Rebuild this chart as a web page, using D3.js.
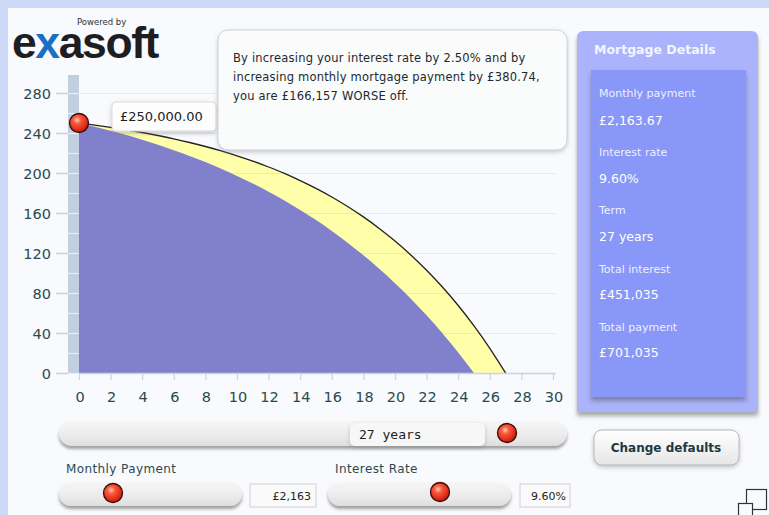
<!DOCTYPE html>
<html><head><meta charset="utf-8">
<script src="https://cdn.jsdelivr.net/npm/d3@7"></script>
<style>
html,body{margin:0;padding:0;background:#cdd9f7;}
svg{display:block;}
</style></head>
<body>
<svg id="c" width="769" height="515"></svg>
<script>
// ---- data (balance in £000 by year) ----
const yearsNew = [0,1,2,3,4,5,6,7,8,9,10,11,12,13,14,15,16,17,18,19,20,21,22,23,24,25,26,27];
const balanceNew = [250,247.9,245.7,243.2,240.5,237.5,234.2,230.5,226.5,222.1,217.2,211.9,206.0,199.6,192.4,184.6,176.0,166.5,156.1,144.6,132.0,118.1,102.8,86.0,67.5,47.1,24.7,0];
const yearsOld = [0,1,2,3,4,5,6,7,8,9,10,11,12,13,14,15,16,17,18,19,20,21,22,23,24,25];
const balanceOld = [250,246.2,242.2,237.9,233.2,228.2,222.8,217.1,210.9,204.3,197.1,189.5,181.3,172.5,163.0,152.9,142.0,130.3,117.8,104.3,89.8,74.3,57.7,39.8,20.6,0];
const xTicks = [0,2,4,6,8,10,12,14,16,18,20,22,24,26,28,30];
const yTicks = [0,40,80,120,160,200,240,280];
const tooltipText = "£250,000.00";
const calloutLines = ["By increasing your interest rate by 2.50% and by","increasing monthly mortgage payment by £380.74,","you are £166,157 WORSE off."];
const detailLabels = ["Monthly payment","Interest rate","Term","Total interest","Total payment"];
const detailValues = ["£2,163.67","9.60%","27 years","£451,035","£701,035"];
const termLabel = "27 years";
const paymentLabel = "Monthly Payment", paymentValue = "£2,163";
const rateLabel = "Interest Rate", rateValue = "9.60%";

const svg = d3.select("#c");
const defs = svg.append("defs");
// gradients & filters
const kg = defs.append("radialGradient").attr("id","knob").attr("cx","40%").attr("cy","35%").attr("r","65%");
kg.append("stop").attr("offset","0%").attr("stop-color","#ffd0c0");
kg.append("stop").attr("offset","30%").attr("stop-color","#ff5a3c");
kg.append("stop").attr("offset","100%").attr("stop-color","#c81a0a");
const pg = defs.append("linearGradient").attr("id","pill").attr("x1",0).attr("y1",0).attr("x2",0).attr("y2",1);
pg.append("stop").attr("offset","0%").attr("stop-color","#f6f6f6");
pg.append("stop").attr("offset","60%").attr("stop-color","#ebebeb");
pg.append("stop").attr("offset","100%").attr("stop-color","#dedede");
const bg = defs.append("linearGradient").attr("id","btn").attr("x1",0).attr("y1",0).attr("x2",0).attr("y2",1);
bg.append("stop").attr("offset","0%").attr("stop-color","#ffffff");
bg.append("stop").attr("offset","100%").attr("stop-color","#e6e6e6");
const sh = defs.append("filter").attr("id","sh").attr("x","-10%").attr("y","-20%").attr("width","120%").attr("height","160%");
sh.append("feDropShadow").attr("dx",0).attr("dy",3).attr("stdDeviation",1.5).attr("flood-color","#555").attr("flood-opacity",0.55);
const sh2 = defs.append("filter").attr("id","sh2").attr("x","-10%").attr("y","-10%").attr("width","120%").attr("height","130%");
sh2.append("feDropShadow").attr("dx",0).attr("dy",2).attr("stdDeviation",2).attr("flood-color","#888").attr("flood-opacity",0.45);
const sh3 = defs.append("filter").attr("id","sh3").attr("x","-10%").attr("y","-10%").attr("width","120%").attr("height","120%");
sh3.append("feDropShadow").attr("dx",0).attr("dy",4).attr("stdDeviation",2).attr("flood-color","#555").attr("flood-opacity",0.5);

// page background
svg.append("rect").attr("x",8).attr("y",8).attr("width",761).attr("height",507).attr("fill","#f8fafd");

// logo (single text element: "Powered by" + exasoft)
const logo = svg.append("text").attr("font-family","Liberation Sans, Arial, sans-serif").attr("fill","#1e1e22");
logo.append("tspan").attr("x",77).attr("y",25).attr("font-family","DejaVu Sans, sans-serif").attr("font-size",8.5)
  .attr("fill","#333").text("Powered by");
const lg = logo.append("tspan").attr("x",12).attr("y",58).attr("font-size",44.5).attr("font-weight","bold").attr("letter-spacing",-1.4);
lg.append("tspan").text("e");
lg.append("tspan").attr("fill","#1b6fc4").text("x");
lg.append("tspan").text("asoft");

// scales
const x = d3.scaleLinear().domain([0,30]).range([79,553]);
const y = d3.scaleLinear().domain([0,280]).range([373,93]);

// y bar
svg.append("rect").attr("x",68).attr("y",75).attr("width",11).attr("height",298).attr("fill","#c0d0e0");
const minorY = d3.range(0,300,20);
svg.selectAll(".ybarl").data(minorY).join("line").attr("x1",68).attr("x2",79)
  .attr("y1",d=>y(d)+0.5).attr("y2",d=>y(d)+0.5).attr("stroke","#e8eef5").attr("stroke-width",1.2);

// areas
const areaNew = d3.area().x((d,i)=>x(yearsNew[i])).y0(y(0)).y1(d=>y(d)).curve(d3.curveMonotoneX);
const areaOld = d3.area().x((d,i)=>x(yearsOld[i])).y0(y(0)).y1(d=>y(d)).curve(d3.curveMonotoneX);
const lineNew = d3.line().x((d,i)=>x(yearsNew[i])).y(d=>y(d)).curve(d3.curveMonotoneX);
svg.append("path").attr("d",areaNew(balanceNew)).attr("fill","#ffffaa");
svg.append("path").attr("d",areaOld(balanceOld)).attr("fill","#8080cc");

// grid
svg.selectAll(".grid").data(yTicks.filter(d=>d>0)).join("line")
  .attr("x1",79).attr("x2",556).attr("y1",d=>y(d)+0.5).attr("y2",d=>y(d)+0.5)
  .attr("stroke","#6070a0").attr("stroke-opacity",0.12);
svg.append("path").attr("d",lineNew(balanceNew)).attr("fill","none").attr("stroke","#222").attr("stroke-width",1.3);

// y axis ticks and labels
svg.selectAll(".yt").data(yTicks).join("line").attr("x1",56).attr("x2",68)
  .attr("y1",d=>y(d)+0.5).attr("y2",d=>y(d)+0.5).attr("stroke","#c8d0dc").attr("stroke-width",1.5);
svg.selectAll(".yl").data(yTicks).join("text").attr("x",51).attr("y",d=>y(d)+5.5)
  .attr("text-anchor","end").attr("font-family","DejaVu Sans, sans-serif").attr("font-size",14.5)
  .attr("fill","#2c4a4c").text(d=>d);

// x axis
svg.append("line").attr("x1",79).attr("x2",556).attr("y1",373.5).attr("y2",373.5).attr("stroke","#c8d4e4").attr("stroke-width",1.5);
svg.selectAll(".xt").data(xTicks).join("line").attr("x1",d=>x(d)+0.5).attr("x2",d=>x(d)+0.5)
  .attr("y1",374).attr("y2",380).attr("stroke","#c8d4e4").attr("stroke-width",1.2);
svg.selectAll(".xl").data(xTicks).join("text").attr("x",d=>x(d)+1).attr("y",402)
  .attr("text-anchor","middle").attr("font-family","DejaVu Sans, sans-serif").attr("font-size",14.5)
  .attr("fill","#2c4a4c").text(d=>d);

// tooltip
svg.append("rect").attr("x",112).attr("y",102).attr("width",104).attr("height",29).attr("rx",4)
  .attr("fill","#ffffff").attr("fill-opacity",0.95).attr("stroke","#dddddd").attr("filter","url(#sh2)");
svg.append("text").attr("x",120).attr("y",121).attr("font-family","DejaVu Sans, sans-serif").attr("font-size",13)
  .attr("fill","#222").text(tooltipText);
// start knob
svg.append("circle").attr("cx",x(yearsNew[0])).attr("cy",y(balanceNew[0])).attr("r",9.5)
  .attr("fill","url(#knob)").attr("stroke","#3a0a05").attr("stroke-width",1.3);

// callout
svg.append("rect").attr("x",218).attr("y",30).attr("width",349).attr("height",120).attr("rx",10)
  .attr("fill","#ffffff").attr("fill-opacity",0.88).attr("stroke","#cfd2d6").attr("filter","url(#sh2)");
svg.selectAll(".cl").data(calloutLines).join("text").attr("x",233).attr("y",(d,i)=>62+i*19)
  .attr("font-family","DejaVu Sans, sans-serif").attr("font-size",11.5).attr("letter-spacing",0.2)
  .attr("fill","#1c2a30").text(d=>d);

// mortgage details panel
svg.append("path").attr("d","M577,412 V38 Q577,31 584,31 H751 Q758,31 758,38 V412 Z")
  .attr("fill","#aab3fb").attr("filter","url(#sh3)");
svg.append("text").attr("x",594).attr("y",54).attr("font-family","DejaVu Sans, sans-serif").attr("font-size",12.5)
  .attr("font-weight","bold").attr("fill","#f4f5ff").text("Mortgage Details");
svg.append("rect").attr("x",591).attr("y",70).attr("width",155).attr("height",327).attr("fill","#8897f8").attr("filter","url(#sh3)");
const dg = svg.selectAll(".det").data(detailLabels).join("g");
dg.append("text").attr("x",599).attr("y",(d,i)=>97+i*58.5).attr("font-family","DejaVu Sans, sans-serif")
  .attr("font-size",11).attr("fill","#eef0ff").text(d=>d);
dg.append("text").attr("x",599).attr("y",(d,i)=>124.5+i*58.2).attr("font-family","DejaVu Sans, sans-serif")
  .attr("font-size",12.5).attr("fill","#ffffff").text((d,i)=>detailValues[i]);

// sliders
function pill(x0,y0,w,h){
  svg.append("rect").attr("x",x0).attr("y",y0).attr("width",w).attr("height",h).attr("rx",h/2)
    .attr("fill","url(#pill)").attr("filter","url(#sh)");
}
function knob(cx,cy){
  svg.append("circle").attr("cx",cx).attr("cy",cy).attr("r",9.5).attr("fill","url(#knob)")
    .attr("stroke","#3a0a05").attr("stroke-width",1.3);
}
pill(59,421,508,25);
svg.append("rect").attr("x",350).attr("y",423).attr("width",135).attr("height",23).attr("rx",5)
  .attr("fill","#f7f7f7").attr("filter","url(#sh2)");
svg.append("text").attr("x",359).attr("y",439).attr("font-family","DejaVu Sans Mono, monospace").attr("font-size",13)
  .attr("fill","#222").text(termLabel);
knob(507,433);

svg.append("text").attr("x",66).attr("y",473).attr("font-family","DejaVu Sans, sans-serif").attr("font-size",12)
  .attr("letter-spacing",0.4).attr("fill","#2a4a50").text(paymentLabel);
pill(59,482,183,24);
knob(113,493);
svg.append("rect").attr("x",250).attr("y",484).attr("width",66).attr("height",23).attr("fill","#fafafa").attr("stroke","#d0d0d0");
svg.append("text").attr("x",311).attr("y",500).attr("text-anchor","end").attr("font-family","DejaVu Sans, sans-serif")
  .attr("font-size",11).attr("fill","#222").text(paymentValue);

svg.append("text").attr("x",335).attr("y",473).attr("font-family","DejaVu Sans, sans-serif").attr("font-size",12)
  .attr("letter-spacing",0.4).attr("fill","#2a4a50").text(rateLabel);
pill(328,482,183,24);
knob(440,492);
svg.append("rect").attr("x",520).attr("y",484).attr("width",50).attr("height",23).attr("fill","#fafafa").attr("stroke","#d0d0d0");
svg.append("text").attr("x",566).attr("y",500).attr("text-anchor","end").attr("font-family","DejaVu Sans, sans-serif")
  .attr("font-size",11).attr("fill","#222").text(rateValue);

// change defaults button
svg.append("rect").attr("x",594).attr("y",430).attr("width",145).attr("height",35).attr("rx",8)
  .attr("fill","url(#btn)").attr("stroke","#b8b8b8").attr("filter","url(#sh2)");
svg.append("text").attr("x",666).attr("y",452).attr("text-anchor","middle").attr("font-family","DejaVu Sans, sans-serif")
  .attr("font-size",12).attr("font-weight","bold").attr("fill","#1d3844").text("Change defaults");

// resize icon
svg.append("rect").attr("x",746.5).attr("y",489.5).attr("width",20).attr("height",20).attr("fill","none").attr("stroke","#333").attr("stroke-width",1.2);
svg.append("rect").attr("x",738.5).attr("y",503.5).attr("width",14).attr("height",14).attr("fill","#f8fafd").attr("stroke","#333").attr("stroke-width",1.2);
</script>
</body></html>
